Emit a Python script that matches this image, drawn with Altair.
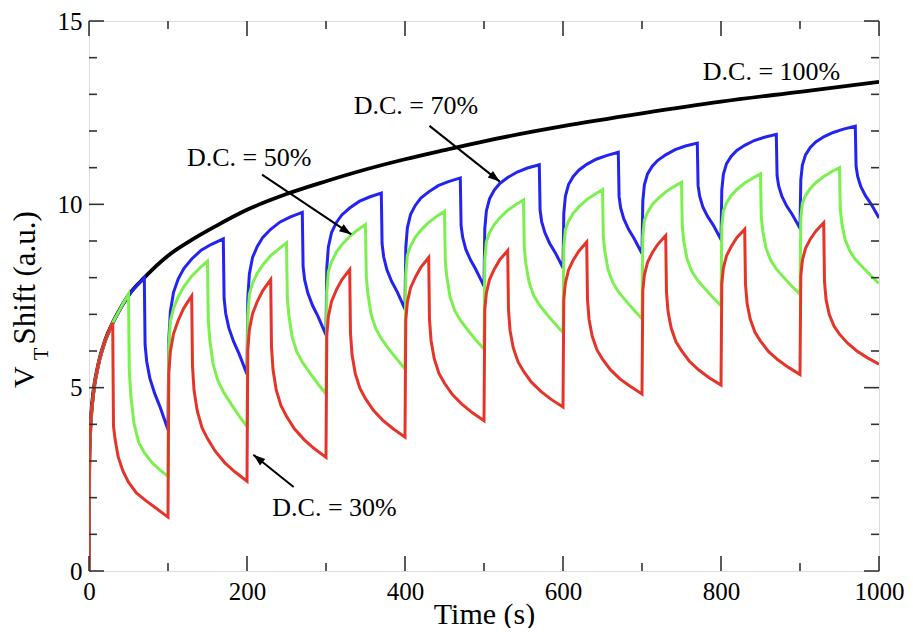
import altair as alt
import pandas as pd

FONT = "Liberation Serif"

# ---------------- data ----------------
# D.C. = 100 % (continuous stress)
BLACK_T = [0, 0.2, 0.5, 1, 2, 3, 5, 7, 10, 13, 20, 30, 40, 50, 70, 100, 130, 160,
           200, 250, 300, 350, 400, 450, 500, 600, 700, 800, 900, 1000]
BLACK_V = [0, 2.5, 3.05, 3.5, 4.0, 4.32, 4.78, 5.1, 5.45, 5.75, 6.26, 6.77, 7.17, 7.52,
           8.0, 8.6, 9.03, 9.4, 9.85, 10.28, 10.63, 10.95, 11.23, 11.48, 11.72, 12.13,
           12.48, 12.8, 13.07, 13.34]

# D.C. = 30 % : time offsets inside each 100 s period (first period, later periods)
RED_T0 = [0, 0.2, 1, 3, 7, 13, 20, 30, 31, 33, 37, 43, 50, 60, 72, 85, 100]
RED_T = [1, 3, 7, 13, 20, 30, 31, 33, 37, 43, 50, 60, 72, 85, 100]
RED_C0 = [0, 2.5, 3.5, 4.32, 5.1, 5.75, 6.26, 6.77, 3.96, 3.59, 3.11, 2.72, 2.42, 2.13, 1.92, 1.71, 1.47]
RED_C1 = [5.39, 5.99, 6.47, 6.84, 7.17, 7.5, 5.58, 4.92, 4.37, 3.91, 3.61, 3.26, 2.95, 2.70, 2.45]
RED_C2 = [6.03, 6.58, 7.02, 7.35, 7.65, 7.95, 6.11, 5.48, 4.94, 4.51, 4.22, 3.88, 3.59, 3.34, 3.1]
RED_C3 = [6.43, 6.94, 7.35, 7.66, 7.94, 8.22, 6.48, 5.89, 5.39, 4.98, 4.70, 4.38, 4.11, 3.88, 3.65]
RED_C4 = [6.84, 7.33, 7.72, 8.01, 8.28, 8.55, 6.86, 6.28, 5.79, 5.39, 5.12, 4.81, 4.55, 4.32, 4.1]
RED_C5 = [7.12, 7.58, 7.95, 8.23, 8.49, 8.74, 7.12, 6.56, 6.09, 5.71, 5.45, 5.15, 4.90, 4.68, 4.47]
RED_C6 = [7.40, 7.85, 8.21, 8.48, 8.72, 8.97, 7.40, 6.86, 6.40, 6.03, 5.78, 5.49, 5.24, 5.04, 4.83]
RED_C7 = [7.64, 8.07, 8.42, 8.68, 8.91, 9.15, 7.60, 7.07, 6.62, 6.25, 6.01, 5.72, 5.48, 5.27, 5.07]
RED_C8 = [7.83, 8.26, 8.60, 8.85, 9.09, 9.32, 7.82, 7.30, 6.87, 6.51, 6.27, 5.99, 5.76, 5.56, 5.36]
RED_C9 = [8.05, 8.47, 8.80, 9.05, 9.27, 9.5, 7.9, 7.4, 7.0, 6.68, 6.46, 6.22, 6.0, 5.82, 5.64]

# D.C. = 50 %
GREEN_T0 = [0, 0.2, 1, 3, 7, 13, 20, 30, 40, 50, 51, 53, 57, 63, 70, 80, 90, 100]
GREEN_T = [1, 3, 7, 13, 20, 30, 40, 50, 51, 53, 57, 63, 70, 80, 90, 100]
GREEN_C0 = [0, 2.5, 3.5, 4.32, 5.1, 5.75, 6.26, 6.77, 7.17, 7.55, 5.46, 4.77, 4.02, 3.50, 3.23, 2.95, 2.75, 2.58]
GREEN_C1 = [6.10, 6.81, 7.16, 7.48, 7.75, 8.04, 8.26, 8.45, 6.83, 6.29, 5.65, 5.20, 4.89, 4.55, 4.23, 3.94]
GREEN_C2 = [6.95, 7.55, 7.85, 8.12, 8.35, 8.60, 8.78, 8.95, 7.47, 6.97, 6.40, 5.98, 5.70, 5.39, 5.10, 4.83]
GREEN_C3 = [7.60, 8.16, 8.43, 8.69, 8.90, 9.13, 9.30, 9.45, 8.03, 7.56, 7.01, 6.61, 6.34, 6.04, 5.77, 5.51]
GREEN_C4 = [8.09, 8.61, 8.86, 9.10, 9.29, 9.51, 9.67, 9.81, 8.46, 8.01, 7.48, 7.10, 6.84, 6.56, 6.29, 6.05]
GREEN_C5 = [8.49, 8.98, 9.23, 9.45, 9.63, 9.84, 9.99, 10.12, 8.82, 8.38, 7.88, 7.51, 7.26, 6.99, 6.74, 6.5]
GREEN_C6 = [8.84, 9.31, 9.54, 9.76, 9.93, 10.13, 10.27, 10.40, 9.13, 8.71, 8.22, 7.87, 7.62, 7.36, 7.11, 6.88]
GREEN_C7 = [9.11, 9.56, 9.78, 9.99, 10.15, 10.34, 10.48, 10.6, 9.39, 8.98, 8.51, 8.17, 7.94, 7.69, 7.45, 7.23]
GREEN_C8 = [9.39, 9.82, 10.04, 10.24, 10.40, 10.58, 10.71, 10.83, 9.65, 9.26, 8.80, 8.47, 8.24, 7.99, 7.76, 7.55]
GREEN_C9 = [9.62, 10.03, 10.24, 10.43, 10.59, 10.76, 10.89, 11.0, 9.86, 9.48, 9.04, 8.73, 8.50, 8.27, 8.05, 7.84]

# D.C. = 70 %
BLUE_T0 = [0, 0.2, 1, 3, 7, 13, 20, 30, 42, 55, 70, 71, 73, 77, 83, 90, 100]
BLUE_T = [1, 3, 7, 13, 20, 30, 42, 55, 70, 71, 73, 77, 83, 90, 100]
BLUE_C0 = [0, 2.5, 3.5, 4.32, 5.1, 5.75, 6.26, 6.77, 7.24, 7.65, 8.0, 6.17, 5.72, 5.26, 4.85, 4.47, 3.85]
BLUE_C1 = [6.30, 7.08, 7.60, 7.97, 8.25, 8.51, 8.75, 8.91, 9.06, 7.44, 7.03, 6.63, 6.26, 5.92, 5.37]
BLUE_C2 = [7.44, 8.10, 8.55, 8.85, 9.10, 9.32, 9.52, 9.66, 9.78, 8.31, 7.94, 7.58, 7.24, 6.94, 6.44]
BLUE_C3 = [8.26, 8.84, 9.23, 9.50, 9.71, 9.90, 10.08, 10.20, 10.31, 8.92, 8.57, 8.22, 7.90, 7.62, 7.14]
BLUE_C4 = [8.82, 9.36, 9.72, 9.97, 10.17, 10.34, 10.51, 10.62, 10.72, 9.42, 9.10, 8.77, 8.48, 8.21, 7.77]
BLUE_C5 = [9.33, 9.82, 10.15, 10.39, 10.57, 10.73, 10.88, 10.99, 11.08, 9.84, 9.53, 9.23, 8.94, 8.69, 8.27]
BLUE_C6 = [9.75, 10.22, 10.54, 10.76, 10.93, 11.09, 11.23, 11.33, 11.42, 10.21, 9.90, 9.60, 9.32, 9.07, 8.66]
BLUE_C7 = [10.08, 10.53, 10.83, 11.04, 11.20, 11.35, 11.49, 11.59, 11.67, 10.51, 10.22, 9.93, 9.67, 9.44, 9.04]
BLUE_C8 = [10.39, 10.82, 11.11, 11.31, 11.47, 11.61, 11.74, 11.83, 11.91, 10.78, 10.50, 10.22, 9.96, 9.73, 9.35]
BLUE_C9 = [10.66, 11.07, 11.35, 11.55, 11.70, 11.84, 11.96, 12.05, 12.13, 11.03, 10.76, 10.48, 10.23, 10.01, 9.63]

PERIOD = 100

# axis ticks
X_MAJOR = [0, 200, 400, 600, 800, 1000]
X_MINOR = [100, 300, 500, 700, 900]
Y_MAJOR = [0, 5, 10, 15]
Y_MINOR = [1, 2, 3, 4, 6, 7, 8, 9, 11, 12, 13, 14]

# annotations
ANN_TEXT = ["D.C. = 100%", "D.C. = 70%", "D.C. = 50%", "D.C. = 30%"]
ANN_X = [777, 335, 124, 232]
ANN_Y = [13.4, 12.46, 11.04, 1.5]

ARROW_X = [431, 219, 259]
ARROW_Y = [12.14, 10.81, 2.29]
ARROW_X2 = [520, 332, 208]
ARROW_Y2 = [10.62, 9.18, 3.17]
ARROW_ANGLE = [128, 124, 309]

# ---------------- build tables ----------------
def cycles_frame(t_first, t_rest, cycles):
    t, v = [], []
    for k, vals in enumerate(cycles):
        offs = t_first if k == 0 else t_rest
        for o, val in zip(offs, vals):
            t.append(PERIOD * k + o)
            v.append(val)
    return pd.DataFrame({"t": t, "v": v, "i": list(range(len(t)))})

red_df = cycles_frame(RED_T0, RED_T, [RED_C0, RED_C1, RED_C2, RED_C3, RED_C4,
                                       RED_C5, RED_C6, RED_C7, RED_C8, RED_C9])
green_df = cycles_frame(GREEN_T0, GREEN_T, [GREEN_C0, GREEN_C1, GREEN_C2, GREEN_C3, GREEN_C4,
                                             GREEN_C5, GREEN_C6, GREEN_C7, GREEN_C8, GREEN_C9])
blue_df = cycles_frame(BLUE_T0, BLUE_T, [BLUE_C0, BLUE_C1, BLUE_C2, BLUE_C3, BLUE_C4,
                                          BLUE_C5, BLUE_C6, BLUE_C7, BLUE_C8, BLUE_C9])
black_df = pd.DataFrame({"t": BLACK_T, "v": BLACK_V, "i": list(range(len(BLACK_T)))})

ann_df = pd.DataFrame({"t": ANN_X, "v": ANN_Y, "label": ANN_TEXT})
arrow_df = pd.DataFrame({"t": ARROW_X, "v": ARROW_Y, "t2": ARROW_X2, "v2": ARROW_Y2,
                         "ang": ARROW_ANGLE})

xmaj_df = pd.DataFrame({"t": X_MAJOR})
xmin_df = pd.DataFrame({"t": X_MINOR})
ymaj_df = pd.DataFrame({"v": Y_MAJOR})
ymin_df = pd.DataFrame({"v": Y_MINOR})

# ---------------- chart ----------------
W, H = 790, 550
MAJ, MIN = 15, 8

xscale = alt.Scale(domain=[0, 1000], nice=False, zero=False)
yscale = alt.Scale(domain=[0, 15], nice=False, zero=False)

x_axis = alt.Axis(values=X_MAJOR, format="d", ticks=False, domain=False, grid=False,
                  labelFont=FONT, labelFontSize=25, labelColor="black", labelPadding=8,
                  labelFlush=False, labelOverlap=False,
                  title="Time (s)", titleFont=FONT, titleFontSize=30,
                  titleFontWeight="normal", titleColor="black",
                  titleY=52, titleBaseline="alphabetic")
y_axis = alt.Axis(values=Y_MAJOR, format="d", ticks=False, domain=False, grid=False,
                  labelFont=FONT, labelFontSize=25, labelColor="black", labelPadding=7,
                  labelOverlap=False,
                  title="Shift (a.u.)", titleFont=FONT, titleFontSize=31,
                  titleFontWeight="normal", titleColor="black", titleAngle=270,
                  titleX=-55, titleY=323, titleAlign="left", titleBaseline="alphabetic")

X = alt.X("t:Q", scale=xscale, axis=x_axis)
Y = alt.Y("v:Q", scale=yscale, axis=y_axis)


def curve(df, color, width, interp="linear"):
    return alt.Chart(df).mark_line(color=color, strokeWidth=width, interpolate=interp,
                                   clip=True).encode(x=X, y=Y, order="i:Q")


layers = [
    curve(black_df, "#000000", 3.8, "monotone"),
    curve(blue_df, "#2424f2", 3),
    curve(green_df, "#7cf04e", 3),
    curve(red_df, "#e5352b", 3),
]

TICK_COLOR = "#333333"
# bottom / top ticks
for df, L in [(xmaj_df, MAJ), (xmin_df, MIN)]:
    layers.append(alt.Chart(df).mark_rule(color=TICK_COLOR, strokeWidth=1.6).encode(
        x=X, y=alt.value(H), y2=alt.value(H - L)))
    layers.append(alt.Chart(df).mark_rule(color=TICK_COLOR, strokeWidth=1.6).encode(
        x=X, y=alt.value(0), y2=alt.value(L)))
# left / right ticks
for df, L in [(ymaj_df, MAJ), (ymin_df, MIN)]:
    layers.append(alt.Chart(df).mark_rule(color=TICK_COLOR, strokeWidth=1.6).encode(
        y=Y, x=alt.value(0), x2=alt.value(L)))
    layers.append(alt.Chart(df).mark_rule(color=TICK_COLOR, strokeWidth=1.6).encode(
        y=Y, x=alt.value(W), x2=alt.value(W - L)))

# annotations
layers.append(alt.Chart(ann_df).mark_text(font=FONT, fontSize=26, align="left",
                                          baseline="alphabetic", color="black").encode(
    x=X, y=Y, text="label:N"))
layers.append(alt.Chart(arrow_df).mark_rule(color="black", strokeWidth=2).encode(
    x=X, y=Y, x2="t2:Q", y2="v2:Q"))
layers.append(alt.Chart(arrow_df).mark_point(shape="M0,0L-0.7,2L0.7,2Z", size=144,
                                             filled=True, color="black", opacity=1,
                                             strokeWidth=0).encode(
    x=alt.X("t2:Q", scale=xscale, axis=x_axis), y=alt.Y("v2:Q", scale=yscale, axis=y_axis),
    angle=alt.Angle("ang:Q", scale=None)))

# "V" with subscript "T" in front of the y-axis title
one = pd.DataFrame({"d": [0]})
layers.append(alt.Chart(one).mark_text(font=FONT, fontSize=30, angle=270, align="left",
                                       baseline="alphabetic", color="black").encode(
    x=alt.value(-55), y=alt.value(367), text=alt.value("V")))
layers.append(alt.Chart(one).mark_text(font=FONT, fontSize=20, angle=270, align="left",
                                       baseline="alphabetic", color="black").encode(
    x=alt.value(-41), y=alt.value(339), text=alt.value("T")))

chart = alt.layer(*layers).properties(
    width=W, height=H,
    padding={"left": 81, "top": 13, "right": 25, "bottom": 57},
    autosize=alt.AutoSizeParams(type="none"),
).configure_view(stroke="#222222", strokeWidth=2).configure(background="white")

chart.save("out.html", embed_options={"renderer": "svg", "actions": False})
